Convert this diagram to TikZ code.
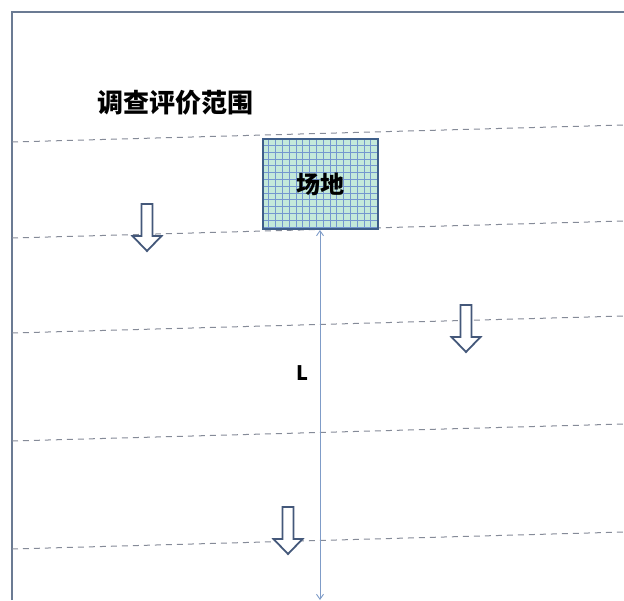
\documentclass[tikz,border=0pt]{standalone}
\usepackage{fontspec}
\newfontfamily\cjk{Noto Sans CJK SC}
\usetikzlibrary{arrows.meta}
\definecolor{framecol}{HTML}{6B7B93}
\definecolor{dashcol}{HTML}{858B98}
\definecolor{sitefill}{HTML}{C4E9DA}
\definecolor{sitegrid}{HTML}{7497CF}
\definecolor{siteedge}{HTML}{3F5F8A}
\definecolor{dimcol}{HTML}{7F9CC8}
\definecolor{flowcol}{HTML}{44587A}

\begin{document}
\begin{tikzpicture}[x=1pt,y=-1pt,
    site/.style={draw=siteedge,line width=2pt,fill=sitefill,minimum width=115pt,minimum height=90pt,
      inner sep=0pt,font=\cjk\bfseries\fontsize{24}{24}\selectfont,
      path picture={\draw[sitegrid,line width=1pt] (path picture bounding box.south west) grid[step=6.8pt] (path picture bounding box.north east);}},
    title/.style={font=\cjk\bfseries\fontsize{26}{26}\selectfont,inner sep=0pt},
    dimlabel/.style={font=\cjk\bfseries\fontsize{20}{20}\selectfont,inner sep=0pt},
    seam/.style={dashcol,line width=1pt,dash pattern=on 6pt off 5pt},
    measure/.style={dimcol,line width=0.9pt,{Straight Barb[length=5pt,width=7pt]}-{Straight Barb[length=5pt,width=7pt]}},
    flow/.style={draw=flowcol,fill=white,line width=1.8pt,line join=miter}]

        \useasboundingbox (0,0) rectangle (624,600);

        % outer frame
        \draw[framecol,line width=2.4pt] (12,600) -- (12,12) -- (624,12);

        % dashed strips
        \foreach \yl in {142,238,333,441,549}
            \draw[seam] (12,\yl) -- (624,{\yl-17});

        \node[title] (scope) at (175,103) {调查评价范围};

        \node[site] (site) at (320,184) {场地};

        % distance L
        \coordinate (bottom) at (320,600);
        \draw[measure] (site.south) -- (bottom);
        \node[dimlabel] (len) at (302,373) {L};

        % flow arrows
        \foreach \ax/\ay in {147/204,466/305,288/507}
            \draw[flow] (\ax-5.5,\ay) -- (\ax-5.5,\ay+32) -- (\ax-14.5,\ay+32) -- (\ax,\ay+47)
                -- (\ax+14.5,\ay+32) -- (\ax+5.5,\ay+32) -- (\ax+5.5,\ay) -- cycle;
      \end{tikzpicture}
\end{document}
